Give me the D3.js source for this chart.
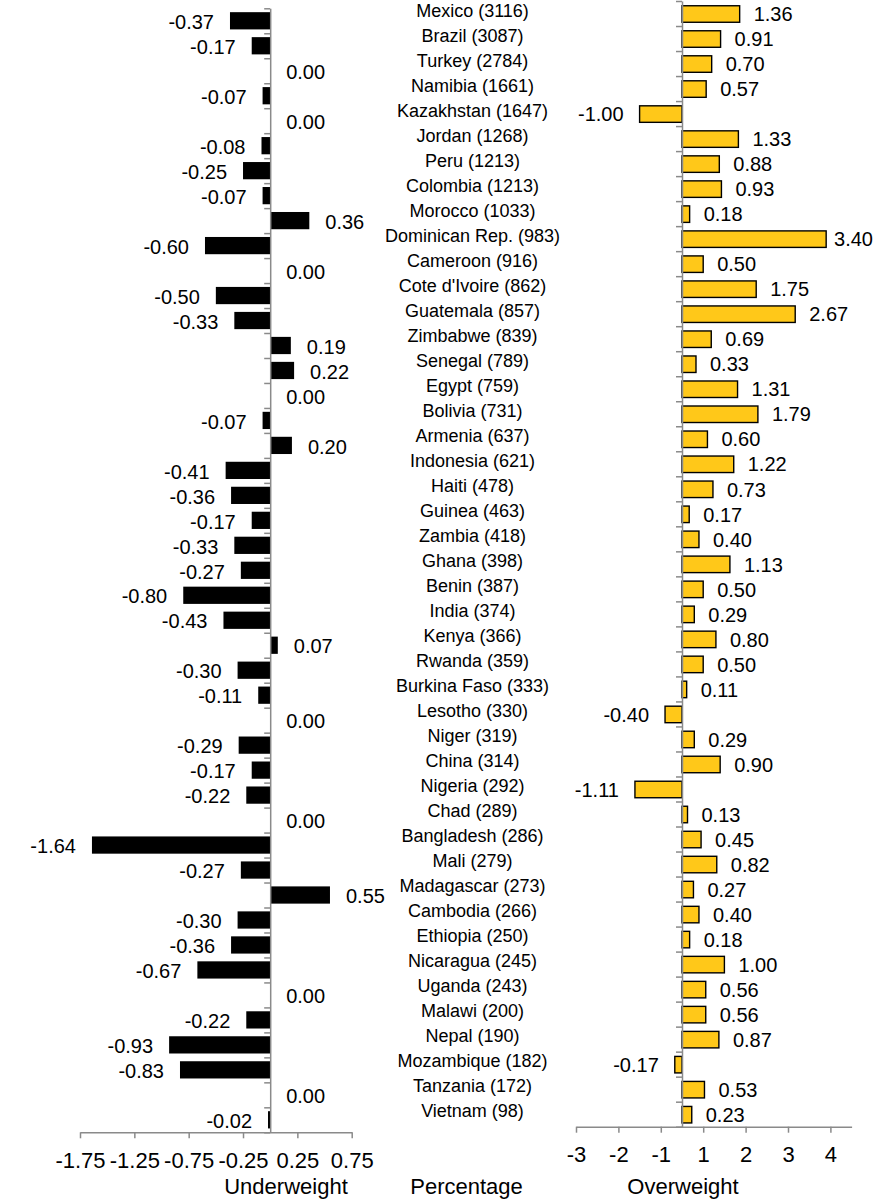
<!DOCTYPE html>
<html>
<head>
<meta charset="utf-8">
<script src="https://cdn.jsdelivr.net/npm/d3@7"></script>
<style>
  html, body { margin: 0; padding: 0; background: #fff; }
  svg { display: block; font-family: "Liberation Sans", Arial, sans-serif; }
</style>
</head>
<body>
<svg id="chart" width="875" height="1200"></svg>
<script>
const countries = ["Mexico (3116)", "Brazil (3087)", "Turkey (2784)", "Namibia (1661)", "Kazakhstan (1647)",
  "Jordan (1268)", "Peru (1213)", "Colombia (1213)", "Morocco (1033)", "Dominican Rep. (983)",
  "Cameroon (916)", "Cote d'Ivoire (862)", "Guatemala (857)", "Zimbabwe (839)", "Senegal (789)",
  "Egypt (759)", "Bolivia (731)", "Armenia (637)", "Indonesia (621)", "Haiti (478)",
  "Guinea (463)", "Zambia (418)", "Ghana (398)", "Benin (387)", "India (374)",
  "Kenya (366)", "Rwanda (359)", "Burkina Faso (333)", "Lesotho (330)", "Niger (319)",
  "China (314)", "Nigeria (292)", "Chad (289)", "Bangladesh (286)", "Mali (279)",
  "Madagascar (273)", "Cambodia (266)", "Ethiopia (250)", "Nicaragua (245)", "Uganda (243)",
  "Malawi (200)", "Nepal (190)", "Mozambique (182)", "Tanzania (172)", "Vietnam (98)"];

const underweight = [-0.37, -0.17, 0.00, -0.07, 0.00, -0.08, -0.25, -0.07, 0.36, -0.60,
  0.00, -0.50, -0.33, 0.19, 0.22, 0.00, -0.07, 0.20, -0.41, -0.36,
  -0.17, -0.33, -0.27, -0.80, -0.43, 0.07, -0.30, -0.11, 0.00, -0.29,
  -0.17, -0.22, 0.00, -1.64, -0.27, 0.55, -0.30, -0.36, -0.67, 0.00,
  -0.22, -0.93, -0.83, 0.00, -0.02];

const overweight = [1.36, 0.91, 0.70, 0.57, -1.00, 1.33, 0.88, 0.93, 0.18, 3.40,
  0.50, 1.75, 2.67, 0.69, 0.33, 1.31, 1.79, 0.60, 1.22, 0.73,
  0.17, 0.40, 1.13, 0.50, 0.29, 0.80, 0.50, 0.11, -0.40, 0.29,
  0.90, -1.11, 0.13, 0.45, 0.82, 0.27, 0.40, 0.18, 1.00, 0.56,
  0.56, 0.87, -0.17, 0.53, 0.23];

const leftTickValues = [-1.75, -1.25, -0.75, -0.25, 0.25, 0.75];
const leftTickLabels = ["-1.75", "-1.25", "-0.75", "-0.25", "0.25", "0.75"];
const rightTickValues = [-2.5, -1.5, -0.5, 0.5, 1.5, 2.5, 3.5];
const rightTickLabels = ["-3", "-2", "-1", "1", "2", "3", "4"];

const axisTitles = ["Underweight", "Percentage", "Overweight"];

const svg = d3.select("#chart");
const AXIS_COLOR = "#8a8a8a";
const TEXT_COLOR = "#000";
const GOLD = "#FFC819";
const fmt = d => d3.format(".2f")(d).replace("\u2212", "-");

const idx = d3.range(countries.length);

// ---------- Left panel (Underweight) ----------
const xL = d3.scaleLinear().domain([-1.75, 0.75]).range([80, 351.7]);
const yL = d3.scaleBand().domain(idx).range([8.3, 1132.3]).paddingInner(0.31).paddingOuter(0.155);
const yLb = d3.scaleLinear().domain([0, countries.length]).range([8.3, 1132.3]);

const gL = svg.append("g");
gL.selectAll("rect").data(underweight).join("rect")
  .attr("x", d => xL(Math.min(0, d)))
  .attr("width", d => Math.abs(xL(d) - xL(0)))
  .attr("y", (d, i) => yL(i))
  .attr("height", yL.bandwidth())
  .attr("fill", "#000");

gL.selectAll("text.val").data(underweight).join("text")
  .attr("class", "val")
  .attr("x", d => d < 0 ? xL(d) - 16 : xL(d) + 16)
  .attr("y", (d, i) => yL(i) + yL.bandwidth() / 2 + 1)
  .attr("dy", "0.36em")
  .attr("text-anchor", d => d < 0 ? "end" : "start")
  .attr("font-size", 20)
  .attr("fill", TEXT_COLOR)
  .text(fmt);

const axL = gL.append("g").attr("transform", `translate(${xL(0)},0)`)
  .call(d3.axisLeft(yLb).tickValues(d3.range(countries.length + 1))
    .tickSize(6).tickSizeOuter(0).tickFormat(""));
const axLx = gL.append("g").attr("transform", `translate(0,${yLb(countries.length)})`)
  .call(d3.axisBottom(xL).tickValues(leftTickValues)
    .tickFormat((d, i) => leftTickLabels[i]).tickSize(6).tickSizeOuter(0).tickPadding(14));

// ---------- Right panel (Overweight) ----------
const xR = d3.scaleLinear().domain([-2.5, 4.0]).range([576, 851.6]);
const yR = d3.scaleBand().domain(idx).range([1, 1126.7]).paddingInner(0.34).paddingOuter(0.17);
const yRb = d3.scaleLinear().domain([0, countries.length]).range([1, 1126.7]);

const gR = svg.append("g");
gR.selectAll("rect").data(overweight).join("rect")
  .attr("x", d => xR(Math.min(0, d)))
  .attr("width", d => Math.abs(xR(d) - xR(0)))
  .attr("y", (d, i) => yR(i) + 0.5)
  .attr("height", yR.bandwidth())
  .attr("fill", GOLD)
  .attr("stroke", "#000")
  .attr("stroke-width", 1.4);

const rLabels = gR.selectAll("text.val").data(overweight).join("text")
  .attr("class", "val")
  .attr("x", d => d < 0 ? xR(d) - 16 : xR(d) + 14)
  .attr("y", (d, i) => yR(i) + yR.bandwidth() / 2 + 0.5)
  .attr("dy", "0.36em")
  .attr("text-anchor", d => d < 0 ? "end" : "start")
  .attr("font-size", 20)
  .attr("fill", TEXT_COLOR)
  .text(fmt);
// keep labels inside the chart area (as the original does for 3.40)
rLabels.each(function(d) {
  if (d >= 0) {
    const w = this.getComputedTextLength();
    const x = +this.getAttribute("x");
    if (x + w > 873) this.setAttribute("x", Math.max(xR(d) + 4, 873 - w));
  }
});

const axR = gR.append("g").attr("transform", `translate(${xR(0)},0)`)
  .call(d3.axisLeft(yRb).tickValues(d3.range(countries.length + 1))
    .tickSize(6).tickSizeOuter(0).tickFormat(""));
const axRx = gR.append("g").attr("transform", `translate(0,${yRb(countries.length)})`)
  .call(d3.axisBottom(xR).tickValues(rightTickValues)
    .tickFormat((d, i) => rightTickLabels[i]).tickSize(6).tickSizeOuter(0).tickPadding(14));

[axL, axLx, axR, axRx].forEach(a => {
  a.selectAll("path.domain").attr("stroke", AXIS_COLOR).attr("stroke-width", 1.5);
  a.selectAll(".tick line").attr("stroke", AXIS_COLOR).attr("stroke-width", 1.5);
  a.selectAll(".tick text").attr("font-size", 22).attr("fill", TEXT_COLOR)
    .attr("font-family", "Liberation Sans, Arial, sans-serif");
});

// ---------- Country labels ----------
svg.append("g").selectAll("text").data(countries).join("text")
  .attr("x", 472.5)
  .attr("y", (d, i) => yR(i) + yR.bandwidth() / 2 - 3)
  .attr("dy", "0.35em")
  .attr("text-anchor", "middle")
  .attr("font-size", 18)
  .attr("fill", TEXT_COLOR)
  .text(d => d);

// ---------- Axis titles ----------
const titleX = [286, 466.5, 683];
svg.append("g").selectAll("text").data(axisTitles).join("text")
  .attr("x", (d, i) => titleX[i])
  .attr("y", 1194)
  .attr("text-anchor", "middle")
  .attr("font-size", 22)
  .attr("fill", TEXT_COLOR)
  .text(d => d);
</script>
</body>
</html>
